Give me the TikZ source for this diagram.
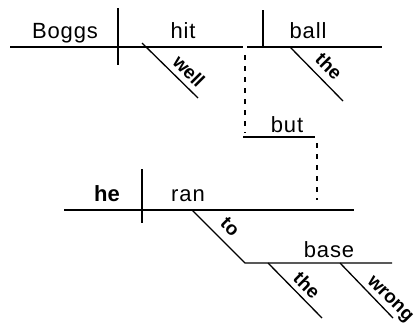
\documentclass[tikz,border=0pt]{standalone}
\usepackage{fontspec}
\setmainfont{Liberation Sans}
\begin{document}
\begin{tikzpicture}[x=1pt,y=-1pt,
  rule/.style={line width=1.3pt},
  dots/.style={line width=1.3pt,dash pattern=on 5pt off 6pt},
  word/.style={font=\fontsize{22}{24}\selectfont\addfontfeature{LetterSpace=4},inner sep=0pt,anchor=base},
  slant/.style={font=\fontsize{19}{21}\selectfont\bfseries,inner sep=0pt,rotate=-45}]
\useasboundingbox (0,0) rectangle (419,335);
% top clause
\coordinate (t0) at (10,47); \coordinate (t1) at (243,47);
\coordinate (t2) at (247,47); \coordinate (t3) at (382,47);
\coordinate (d0) at (118,8); \coordinate (d1) at (118,65);
\coordinate (b0) at (263,10); \coordinate (b1) at (263,47);
\coordinate (w0) at (142,43); \coordinate (w1) at (198,98);
\coordinate (h0) at (290,47); \coordinate (h1) at (343,101);
\draw[rule] (t0) -- (t1);
\draw[rule] (t2) -- (t3);
\draw[rule] (d0) -- (d1);
\draw[rule] (b0) -- (b1);
\draw[rule] (w0) -- (w1);
\draw[rule] (h0) -- (h1);
\node[word] (boggs) at (65,38) {Boggs};
\node[word] (hit) at (183,38) {hit};
\node[word] (ball) at (308,38) {ball};
\node[slant] (well) at (189,71) {well};
\node[slant] (the1) at (329,66) {the};
% conjunction
\coordinate (c0) at (245,55); \coordinate (c1) at (245,133);
\coordinate (u0) at (243,137); \coordinate (u1) at (315,137);
\coordinate (e0) at (317,143); \coordinate (e1) at (317,200);
\draw[dots] (c0) -- (c1);
\draw[rule] (u0) -- (u1);
\draw[dots] (e0) -- (e1);
\node[word] (but) at (287,132) {but};
% bottom clause
\coordinate (r0) at (64,210); \coordinate (r1) at (354,210);
\coordinate (v0) at (142,169); \coordinate (v1) at (142,223);
\coordinate (o0) at (192,210); \coordinate (o1) at (245,263);
\coordinate (s1) at (392,263);
\coordinate (x0) at (268,263); \coordinate (x1) at (322,318);
\coordinate (g0) at (340,263); \coordinate (g1) at (393,318);
\draw[rule] (r0) -- (r1);
\draw[rule] (v0) -- (v1);
\draw[rule] (o0) -- (o1) -- (s1);
\draw[rule] (x0) -- (x1);
\draw[rule] (g0) -- (g1);
\node[word,font=\fontsize{22}{24}\selectfont\bfseries] (he) at (107,201) {he};
\node[word] (ran) at (188,201) {ran};
\node[word] (base) at (329,257) {base};
\node[slant] (to) at (230,227) {to};
\node[slant] (the2) at (307,285) {the};
\node[slant] (wrong) at (389,300) {wrong};
\end{tikzpicture}
\end{document}
